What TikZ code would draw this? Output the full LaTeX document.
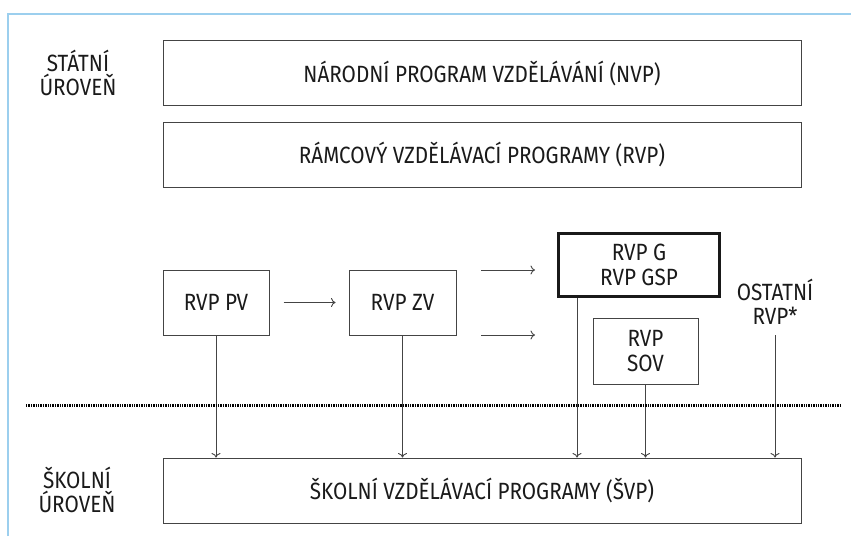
\documentclass[tikz,border=0pt]{standalone}
\usepackage{fontspec}
\setmainfont[FakeStretch=0.88]{Fira Sans}
\usetikzlibrary{arrows.meta}
\definecolor{frameblue}{HTML}{9CCFEE}
\definecolor{boxgray}{HTML}{444444}
\definecolor{txt}{HTML}{1A1A1A}
\tikzset{
  box/.style={draw=boxgray, line width=1pt, inner sep=0pt, align=center, text=txt, font=\fontsize{23.5}{25}\selectfont},
  wide/.style={box, minimum width=638pt, minimum height=65pt},
  small/.style={box, minimum width=106pt, minimum height=65pt},
  lbl/.style={align=center, text=txt, font=\fontsize{23.5}{24}\selectfont, inner sep=0pt},
  arr/.style={draw=boxgray, line width=0.9pt, -{To[length=4.5pt,width=9pt]}},
}
\begin{document}
\begin{tikzpicture}[x=1pt,y=-1pt]
\useasboundingbox (0,0) rectangle (851,536);
\fill[white] (0,0) rectangle (851,536);
% light blue frame
\draw[frameblue, line width=1.6pt] (8,536) -- (8,14) -- (851,14);
% level labels
\node[lbl] (state) at (78,73) {STÁTNÍ\\ÚROVEŇ};
\node[lbl] (school) at (77,490) {ŠKOLNÍ\\ÚROVEŇ};
% wide boxes
\node[wide] (nvp) at (482,73) {NÁRODNÍ PROGRAM VZDĚLÁVÁNÍ (NVP)};
\node[wide] (rvp) at (482,154.5) {RÁMCOVÝ VZDĚLÁVACÍ PROGRAMY (RVP)};
\node[wide] (svp) at (482,490.5) {ŠKOLNÍ VZDĚLÁVACÍ PROGRAMY (ŠVP)};
% small boxes
\node[small] (pv) at (216,302.5) {RVP PV};
\node[small, minimum width=107pt] (zv) at (402.5,302.5) {RVP ZV};
\node[box, draw=black!90, line width=3pt, minimum width=161pt, minimum height=63pt] (g) at (639,265) {RVP G\\RVP GSP};
\node[small, minimum width=105pt, minimum height=66pt] (sov) at (645.5,351) {RVP\\SOV};
\node[lbl, inner ysep=0pt, minimum height=66pt] (ost) at (775,302) {OSTATNÍ\\RVP*};
% horizontal arrows
\coordinate (a1s) at (481,270); \coordinate (a1e) at (535,270);
\coordinate (a2s) at (481,335); \coordinate (a2e) at (535,335);
\draw[arr] ([xshift=14pt]pv.east) -- ([xshift=-13pt]zv.west);
\draw[arr] (a1s) -- (a1e);
\draw[arr] (a2s) -- (a2e);
% vertical arrows
\draw[arr] (g.south -| 577,0) -- (577,0 |- svp.north);
\draw[arr] (pv.south) -- (pv.south |- svp.north);
\draw[arr] (zv.south) -- (zv.south |- svp.north);
\draw[arr] (sov.south) -- (sov.south |- svp.north);
\draw[arr] (ost.south) -- (ost.south |- svp.north);
% dotted divider
\coordinate (dl) at (26,405); \coordinate (dr) at (840,405);
\draw[black, line width=3pt, dash pattern=on 1.4pt off 1pt] (dl) -- (dr);
\end{tikzpicture}
\end{document}
